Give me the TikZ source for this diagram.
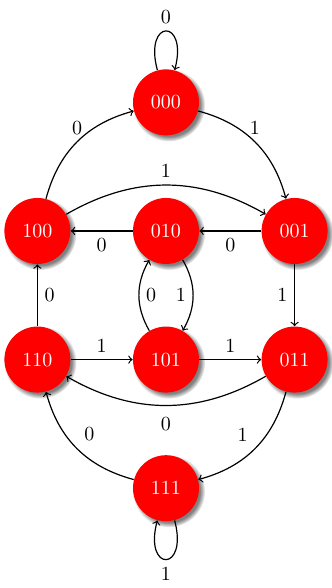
\documentclass[tikz,border=0pt]{standalone}
\usepackage{amsmath}
\usepackage{tikz}
\usetikzlibrary{arrows}
\usetikzlibrary{shadows}

\begin{document}
\begin{tikzpicture}
			\tikzset{state/.style={shape = circle, fill = red, text = white, minimum size = 33pt, inner sep = 0pt, circular drop shadow}}
			\tikzset{edge/.style={->, semithick}}
			\useasboundingbox (-2.917, -6.274) rectangle (2.917, 4.059);
			%vertices
			\node[state] (s000) at (0, 2.26) {000};
			\node[state] (s100) at (-2.26, 0) {100};
			\node[state] (s010) at (0, 0) {010};
			\node[state] (s001) at (2.26, 0) {001};
			\node[state] (s110) at (-2.26, -2.26) {110};
			\node[state] (s101) at (0, -2.26) {101};
			\node[state] (s011) at (2.26, -2.26) {011};
			\node[state] (s111) at (0, -4.52) {111};
			%edges
			\draw[edge] (s000) to[loop above] node[above] {0} (s000);
			\draw[edge] (s100) to[bend left = 30] node[above] {0} (s000);
			\draw[edge] (s000) to[bend left = 30] node[above] {1} (s001);
			\draw[edge] (s100) to[bend left = 30] node[auto] {1} (s001);
			\draw[edge] (s010) -- node[auto] {0} (s100);
			\draw[edge] (s001) -- node[auto] {0} (s010);
			\draw[edge] (s001) -- node[auto, swap] {1} (s011);
			\draw[edge] (s110) -- node[auto, swap] {0} (s100);
			\draw[edge] (s010) to[bend left = 30] node[auto, swap] {1} (s101);
			\draw[edge] (s101) to[bend left = 30] node[auto, swap] {0} (s010);
			\draw[edge] (s110) -- node[auto] {1} (s101);
			\draw[edge] (s101) -- node[auto] {1} (s011);
			\draw[edge] (s011) to[bend left = 30] node[below = 2pt] {0} (s110);
			\draw[edge] (s011) to[bend left = 30] node[auto, swap] {1} (s111);
			\draw[edge] (s111) to[bend left = 30] node[auto, swap] {0} (s110);
			\draw[edge] (s111) to[loop below] node[below] {1} (s111);
\end{tikzpicture}
\end{document}
